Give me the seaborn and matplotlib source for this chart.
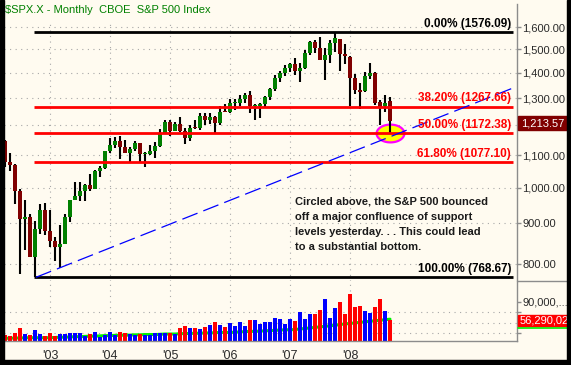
import numpy as np
import pandas as pd
import matplotlib
matplotlib.use("Agg")
import matplotlib.pyplot as plt
import seaborn as sns
from matplotlib.path import Path
from matplotlib.patches import Rectangle
from matplotlib.lines import Line2D
from matplotlib.ticker import NullLocator

# ---------------- data ----------------
months = pd.date_range("2002-04-01", "2008-09-01", freq="MS")

opens = [1146.54, 1076.92, 1067.14, 989.82, 911.62, 916.07, 815.28, 885.76, 936.31,
         879.82, 855.70, 841.15, 848.18, 916.92, 963.59, 974.50, 990.31, 1008.01, 995.97, 1050.71, 1058.20,
         1111.92, 1131.13, 1144.94, 1126.21, 1107.30, 1120.68, 1140.84, 1101.72, 1104.24, 1114.58, 1130.20, 1173.82,
         1211.92, 1181.27, 1203.60, 1180.59, 1156.85, 1191.50, 1191.33, 1234.18, 1220.33, 1228.81, 1207.01, 1249.48,
         1248.29, 1280.08, 1280.66, 1294.83, 1310.61, 1270.09, 1270.20, 1276.66, 1303.82, 1335.85, 1377.94, 1400.63,
         1418.03, 1437.90, 1406.80, 1420.83, 1482.37, 1530.62, 1504.66, 1455.18, 1473.96, 1527.29, 1545.79, 1479.63,
         1467.97, 1378.60, 1330.45, 1326.41, 1385.97, 1399.62, 1284.91, 1269.42, 1287.83]
highs = [1147.84, 1106.59, 1070.74, 994.46, 965.00, 924.02, 907.44, 951.57, 954.28,
         935.05, 864.64, 895.90, 924.24, 965.38, 1015.33, 1015.41, 1011.01, 1040.29, 1053.79, 1063.65, 1112.56,
         1155.38, 1158.98, 1163.23, 1150.57, 1127.74, 1146.34, 1140.84, 1108.96, 1131.54, 1142.05, 1188.46, 1217.33,
         1217.80, 1212.44, 1229.11, 1191.88, 1199.56, 1219.59, 1245.15, 1245.86, 1243.13, 1233.34, 1270.64, 1275.80,
         1294.90, 1297.57, 1310.88, 1318.16, 1326.70, 1275.58, 1280.42, 1306.74, 1340.28, 1389.45, 1407.89, 1431.81,
         1441.61, 1461.57, 1438.89, 1498.02, 1535.56, 1540.56, 1555.90, 1503.89, 1538.74, 1576.09, 1545.79, 1523.57,
         1471.77, 1396.02, 1359.68, 1404.71, 1440.24, 1404.05, 1292.17, 1313.15, 1303.04]
lows = [1063.46, 1048.96, 952.92, 775.68, 833.44, 815.28, 768.63, 872.12, 871.11,
        840.34, 806.29, 788.90, 847.85, 902.83, 963.59, 962.10, 960.84, 990.36, 995.97, 1031.20, 1055.52,
        1105.08, 1124.44, 1087.16, 1105.06, 1076.32, 1113.32, 1078.78, 1060.72, 1101.29, 1090.19, 1127.60, 1173.37,
        1163.75, 1180.95, 1176.92, 1136.15, 1146.18, 1188.30, 1183.55, 1201.07, 1205.35, 1168.20, 1201.07, 1246.59,
        1245.74, 1253.61, 1268.42, 1280.74, 1245.34, 1219.29, 1224.54, 1261.30, 1290.93, 1327.10, 1360.98, 1385.93,
        1403.97, 1389.42, 1363.98, 1416.37, 1476.70, 1484.18, 1454.25, 1370.60, 1439.29, 1489.56, 1406.10, 1435.65,
        1270.05, 1316.75, 1256.98, 1324.35, 1373.07, 1272.00, 1200.44, 1248.64, 1169.28]
closes = [1076.92, 1067.14, 989.82, 911.62, 916.07, 815.28, 885.76, 936.31, 879.82,
          855.70, 841.15, 848.18, 916.92, 963.59, 974.50, 990.31, 1008.01, 995.97, 1050.71, 1058.20, 1111.92,
          1131.13, 1144.94, 1126.21, 1107.30, 1120.68, 1140.84, 1101.72, 1104.24, 1114.58, 1130.20, 1173.82, 1211.92,
          1181.27, 1203.60, 1180.59, 1156.85, 1191.50, 1191.33, 1234.18, 1220.33, 1228.81, 1207.01, 1249.48, 1248.29,
          1280.08, 1280.66, 1294.83, 1310.61, 1270.09, 1270.20, 1276.66, 1303.82, 1335.85, 1377.94, 1400.63, 1418.30,
          1438.24, 1406.82, 1420.86, 1482.37, 1530.62, 1503.35, 1455.27, 1473.99, 1526.75, 1549.38, 1481.14, 1468.36,
          1378.55, 1330.63, 1322.70, 1385.59, 1400.38, 1280.00, 1267.38, 1282.83, 1213.57]

# monthly volume (billions of shares)
volumes = [27, 25, 31.5, 40.4, 29, 27, 36.6, 29, 25,
           31, 25, 29, 29, 31, 31, 31, 26, 29, 33, 23.4, 27,
           33, 27, 33, 31, 29, 27, 29, 27, 27, 31, 31, 31,
           31, 29, 40.4, 44, 40.4, 40.4, 38.5, 42, 46, 51.7, 46, 42,
           49.8, 44, 51.7, 44, 55.5, 55.5, 48, 51.7, 51, 59, 57.4, 48,
           57.4, 53.6, 70.6, 57, 66.8, 66.8, 74.3, 95, 59, 78, 89, 66.8,
           104.5, 80, 82, 72.5, 68.7, 80, 95, 72.5, 56.29]
volume_ma = [21, 21, 21.5, 21.5, 22, 22, 22, 22, 22,
             22, 22.5, 23, 23, 23.5, 24, 24, 24.5, 25, 25, 25.5, 26,
             26, 26.5, 26.5, 27, 27, 27.5, 27.5, 28, 28, 28, 28.5, 29,
             29, 29, 29.5, 30, 30, 30.5, 30.5, 31, 31, 31.5, 32, 32,
             32, 32.5, 33, 33.5, 34, 34, 34.5, 35, 35.5, 36, 36.5, 37,
             37, 37.5, 38.5, 39.5, 40.5, 41.5, 42.5, 43.5, 44.5, 45.5, 47, 48,
             49, 50, 51, 52, 53, 54, 55, 56, 57]

fib_levels = [1576.09, 1267.66, 1172.38, 1077.10, 768.67]
fib_labels = ["0.00% (1576.09)", "38.20% (1267.66)", "50.00% (1172.38)",
              "61.80% (1077.10)", "100.00% (768.67)"]
fib_colors = ["#000000", "#FF0000", "#FF0000", "#FF0000", "#000000"]

trend_x = [6.2, 101.6]
trend_y = [768.67, 1338.7]

price_ticks = [800, 900, 1000, 1100, 1300, 1400, 1500, 1600]
grid_prices = [800, 900, 1000, 1100, 1200, 1300, 1400, 1500, 1600]
year_labels = ["'03", "'04", "'05", "'06", "'07", "'08"]
last_close_label = "1,213.57"
last_volume_label = "56,290,02"
title = "$SPX.X - Monthly  CBOE  S&P 500 Index"
note_lines = ["Circled above, the S&P 500 bounced",
              "off a major confluence of support",
              "levels yesterday. . . This could lead",
              "to a substantial bottom."]

# ---------------- style ----------------
sns.set_theme(style="white")
plt.rcParams["font.family"] = ["Liberation Sans", "DejaVu Sans"]
BG = "#FFFBF0"
GRID = "#A8A8A8"
AXC = "#8C8C8C"
W, H = 571, 365


def fx(px):
    return px / W


def fy(py):
    return 1 - py / H


fig = plt.figure(figsize=(5.71, 3.65), dpi=100, facecolor=BG)
ax = fig.add_axes([fx(4), fy(280.7), fx(517) - fx(4), fy(3.5) - fy(280.7)])
ax2 = fig.add_axes([fx(4), fy(340.7), fx(517) - fx(4), fy(280.7) - fy(340.7)])
for a in (ax, ax2):
    a.set_facecolor(BG)
    a.set_xlim(-0.2, 102.4)
    for s in ("left", "top"):
        a.spines[s].set_visible(False)
    a.spines["right"].set_color(AXC)
    a.spines["right"].set_linewidth(1.0)

idx = np.arange(len(months))
year_idx = [i for i, m in enumerate(months) if m.month == 1]

# ---------------- price panel ----------------
ax.set_yscale("log")
ax.set_ylim(761.0, 1715.0)
ax.spines["bottom"].set_visible(False)
ax.set_xticks([])
ax.yaxis.set_minor_locator(NullLocator())
ax.yaxis.tick_right()
ax.set_yticks(price_ticks)
ax.set_yticklabels([f"{t:,.2f}" for t in price_ticks])
ax.tick_params(axis="y", which="major", direction="out", length=3, width=1,
               color=AXC, labelcolor="#2a2a2a", labelsize=8, pad=1)

for g in grid_prices:
    ax.axhline(g, color=GRID, lw=0.8, ls=(0, (1, 4)), zorder=0.5)
for yi in year_idx:
    ax.axvline(yi, ymin=0, ymax=0.94, color=GRID, lw=0.8, ls=(0, (1, 4)), zorder=0.5)

# highlight ellipse
t = np.linspace(0, 2 * np.pi, 80)
ell = Path(np.column_stack([np.cos(t), 0.64 * np.sin(t)]), closed=True)
ax.plot([idx[-1]], [fib_levels[2]], marker=ell, ms=20, mfc="#FFFF00", mec="#FF00FF",
        mew=1.6, ls="none", zorder=1.5)

o = np.array(opens)
c = np.array(closes)
up = c >= o
ax.vlines(idx, lows, highs, color="black", lw=1.5, zorder=3)
body_bottom = np.minimum(o, c)
body_h = np.maximum(np.abs(c - o), body_bottom * 0.003)
ax.bar(idx, body_h, bottom=body_bottom, width=0.85,
       color=np.where(up, "#008000", "#800000"), linewidth=0, zorder=3.5)

ax.hlines(fib_levels, 5.8, 101.6, colors=fib_colors, lw=2, zorder=4)
for lvl, lab, col in zip(fib_levels, fib_labels, fib_colors):
    ax.annotate(lab, (101.2, lvl), xytext=(0, 1.6), textcoords="offset points",
                ha="right", va="bottom", color=col, fontsize=8.5, fontweight="bold",
                zorder=6)

ax.plot(trend_x, trend_y, color="#0000FF", lw=0.9, dashes=(13, 5), zorder=5)

# ---------------- volume panel ----------------
ax2.set_ylim(16.4, 129.6)
ax2.spines["bottom"].set_color(AXC)
ax2.spines["bottom"].set_linewidth(1.0)
for g in (70, 50, 30):
    ax2.axhline(g, color=GRID, lw=0.8, ls=(0, (1, 4)), zorder=0.5)
for yi in year_idx:
    ax2.axvline(yi, color=GRID, lw=0.8, ls=(0, (1, 4)), zorder=0.5)

sns.lineplot(x=idx, y=volume_ma, ax=ax2, color="#00EE00", lw=2.2, zorder=1)
ax2.bar(idx, np.array(volumes) - 16.4, bottom=16.4, width=0.65,
        color=np.where(up, "#0000FF", "#FF0000"), linewidth=0, zorder=2)

ax2.yaxis.tick_right()
ax2.set_yticks([90, 70, 50, 30])
ax2.set_yticklabels(["90,000,...", "", "", ""])
ax2.tick_params(axis="y", direction="out", length=3, width=1, color=AXC,
                labelcolor="#2a2a2a", labelsize=8, pad=1)
ax2.set_xticks(year_idx)
ax2.set_xticklabels(year_labels)
ax2.tick_params(axis="x", direction="out", length=5, width=1, color=AXC,
                labelcolor="#2a2a2a", labelsize=9, pad=1.5)
ax2.set_xlabel("")
ax2.set_ylabel("")

# ---------------- annotations in margin ----------------
fig.text(fx(5), fy(10), title, color="#008000", fontsize=8, va="center", ha="left")
for k, line in enumerate(note_lines):
    fig.text(fx(295), fy(201.7 + 15 * k), line, fontsize=8, fontweight="bold",
             color="#1a1a1a", va="center", ha="left")

fig.add_artist(Rectangle((fx(518), fy(130.5)), fx(567) - fx(518), (130.5 - 116.5) / H,
                         transform=fig.transFigure, color="#800000", zorder=8))
fig.text(fx(521), fy(123.5), last_close_label, color="white", fontsize=8,
         va="center", ha="left", zorder=9)
fig.add_artist(Rectangle((fx(518), fy(326.3)), fx(567) - fx(518), (326.3 - 314.7) / H,
                         transform=fig.transFigure, color="#FF0000", zorder=8))
fig.text(fx(520), fy(320.5), last_volume_label, color="white", fontsize=8,
         va="center", ha="left", zorder=9)
fig.add_artist(Line2D([fx(518), fx(567)], [fy(327.8), fy(327.8)],
                      transform=fig.transFigure, color="#00EE00", lw=1.2, zorder=8))
fig.add_artist(Line2D([fx(517), fx(567)], [fy(280.7), fy(280.7)],
                      transform=fig.transFigure, color=AXC, lw=1.0, zorder=8))

# black frame
for (x0, y0, x1, y1) in [(0, 0, 4, 365), (567, 0, 571, 365), (0, 360, 571, 365)]:
    fig.add_artist(Rectangle((fx(x0), fy(y1)), (x1 - x0) / W, (y1 - y0) / H,
                             transform=fig.transFigure, color="black", zorder=20))

fig.savefig("out.png", dpi=100, facecolor=BG)
